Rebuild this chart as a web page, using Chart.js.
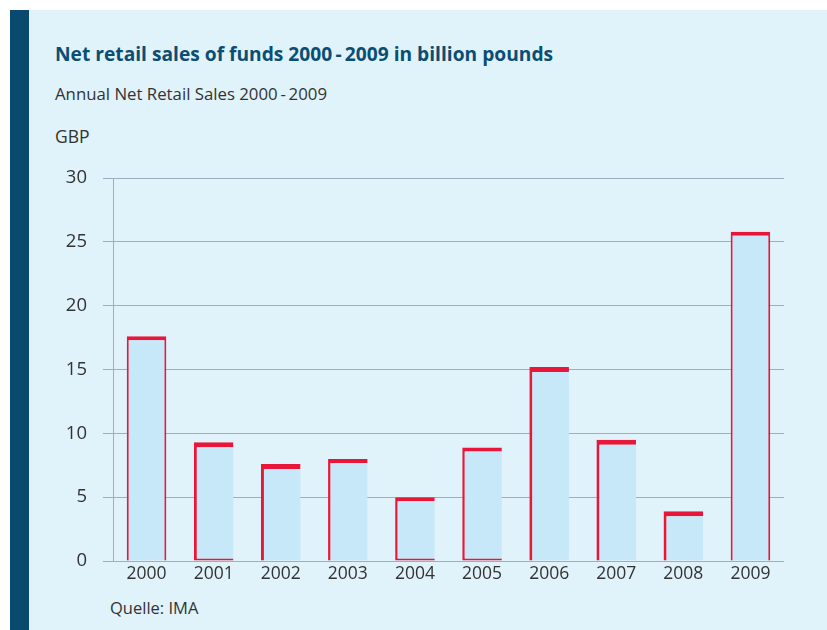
<!DOCTYPE html>
<html>
<head>
<meta charset="utf-8">
<title>Net retail sales of funds</title>
<script src="https://cdn.jsdelivr.net/npm/chart.js@4/dist/chart.umd.min.js"></script>
<style>
  html, body { margin: 0; padding: 0; background: #fff; }
  body { width: 827px; height: 630px; position: relative; overflow: hidden; font-family: "Open Sans", "Noto Sans", sans-serif; }
  .panel { position: absolute; left: 10px; top: 10px; right: 0; bottom: 0; background: #e0f2fa; }
  .stripe { position: absolute; left: 10px; top: 10px; width: 19px; bottom: 0; background: #0b4a6f; }
  .txt { position: absolute; white-space: nowrap; color: #333; }
  #title { left: 55px; top: 40px; font-size: 19.2px; font-weight: bold; color: #0b4e74; }
  #subtitle { left: 55px; top: 82px; font-size: 16.8px; }
  #unit { left: 55px; top: 124px; font-size: 17.5px; }
  #source { left: 110px; top: 596px; font-size: 16.5px; }
  #wrap { position: absolute; left: 0; top: 151px; width: 827px; height: 449px; }
</style>
</head>
<body>
<div class="panel"></div>
<div class="stripe"></div>
<div class="txt" id="title">Net retail sales of funds 2000&#8201;-&#8201;2009 in billion pounds</div>
<div class="txt" id="subtitle">Annual Net Retail Sales 2000&#8201;-&#8201;2009</div>
<div class="txt" id="unit">GBP</div>
<div class="txt" id="source">Quelle: IMA</div>
<div id="wrap"><canvas id="chart"></canvas></div>
<script>
// Net retail sales per year, billion GBP
const years = ['2000', '2001', '2002', '2003', '2004', '2005', '2006', '2007', '2008', '2009'];
const netSales = [17.6, 9.3, 7.6, 8.0, 5.0, 8.9, 15.2, 9.5, 3.9, 25.8];
const yTicks = [0, 5, 10, 15, 20, 25, 30];

// red outline per bar (the printed outlines are not uniform)
const outlines = [
  { top: 4, left: 2, right: 2, bottom: 0 },
  { top: 5, left: 3, right: 0, bottom: 2 },
  { top: 5, left: 3, right: 0, bottom: 0 },
  { top: 4, left: 2.5, right: 0, bottom: 0 },
  { top: 4, left: 2.5, right: 0, bottom: 2 },
  { top: 4, left: 2.5, right: 0, bottom: 2 },
  { top: 5, left: 3, right: 0, bottom: 0 },
  { top: 5, left: 3, right: 0, bottom: 0 },
  { top: 5, left: 3, right: 0, bottom: 0 },
  { top: 4, left: 2, right: 2, bottom: 0 }
];

const gridColor = '#9dadc2';
const textColor = '#333333';
const fontFamily = '"Open Sans", "Noto Sans", sans-serif';

new Chart(document.getElementById('chart'), {
  type: 'bar',
  data: {
    labels: years,
    datasets: [{
      label: 'Net retail sales',
      data: netSales,
      backgroundColor: '#c6e8f8',
      borderColor: '#e8173a',
      borderWidth: ctx => outlines[ctx.dataIndex],
      borderSkipped: false,
      categoryPercentage: 1,
      barPercentage: 0.59
    }]
  },
  options: {
    responsive: true,
    maintainAspectRatio: false,
    animation: false,
    layout: { autoPadding: false, padding: { left: 0, right: 43, top: 17, bottom: 0 } },
    plugins: {
      legend: { display: false },
      tooltip: { enabled: false }
    },
    scales: {
      x: {
        grid: { display: false, drawTicks: false },
        border: { display: false },
        ticks: {
          color: textColor,
          padding: 3,
          font: { family: fontFamily, size: 17.5 }
        },
        afterFit: scale => { scale.height = 39; }
      },
      y: {
        min: 0,
        max: 30,
        afterBuildTicks: scale => { scale.ticks = yTicks.map(v => ({ value: v })); },
        grid: { color: gridColor, lineWidth: 1, tickLength: 10 },
        border: { display: true, color: gridColor, width: 1 },
        ticks: {
          color: textColor,
          padding: 16,
          font: { family: fontFamily, size: 18.5 }
        },
        afterFit: scale => { scale.width = 113; }
      }
    }
  }
});
</script>
</body>
</html>
